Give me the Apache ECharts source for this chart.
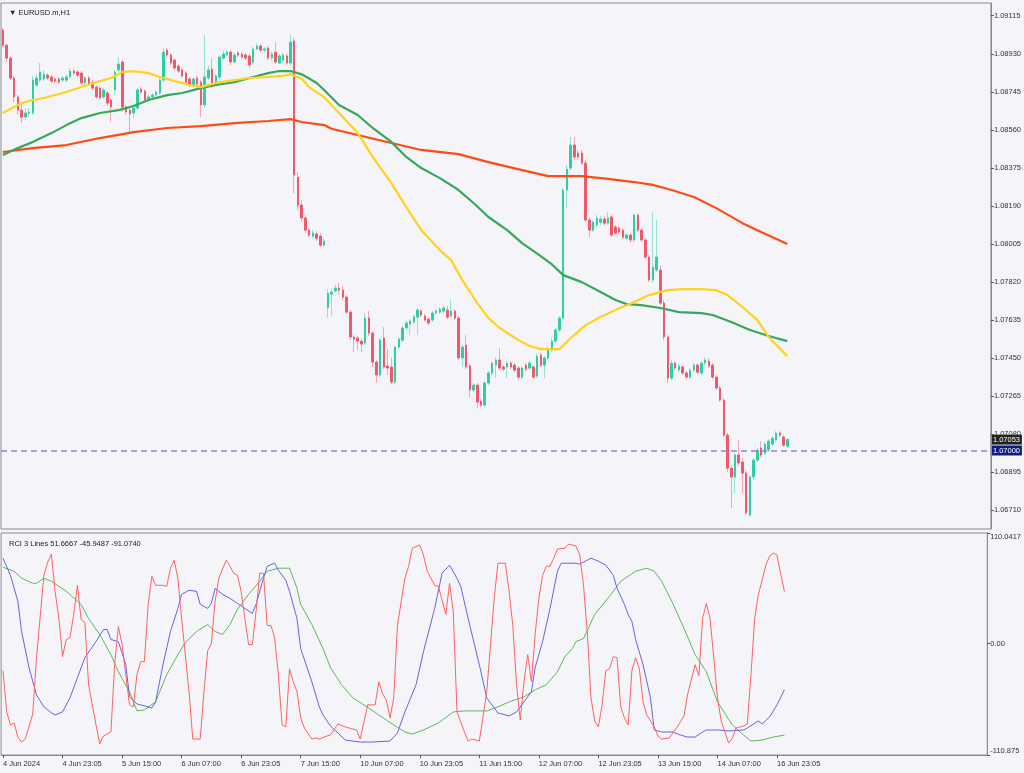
<!DOCTYPE html>
<html><head><meta charset="utf-8">
<script src="https://cdn.jsdelivr.net/npm/echarts@6/dist/echarts.min.js"></script>
<style>html,body{margin:0;padding:0;background:#F5F5F9;}#c{width:1024px;height:773px;}</style>
</head><body><div id="c"></div>
<script>
// ---------- DATA ----------
const symbolTitle = 'EURUSD.m,H1';
const xTickLabels = ['4 Jun 2024','4 Jun 23:05','5 Jun 15:00','6 Jun 07:00','6 Jun 23:05','7 Jun 15:00','10 Jun 07:00','10 Jun 23:05','11 Jun 15:00','12 Jun 07:00','12 Jun 23:05','13 Jun 15:00','14 Jun 07:00','16 Jun 23:05'];
const barsPerTick = 16;
const totalSlots = 265; // bars shown + empty space to the right
const priceTicks = [1.09115,1.08930,1.08745,1.08560,1.08375,1.08190,1.08005,1.07820,1.07635,1.07450,1.07265,1.07080,1.06895,1.06710];
const priceMin = 1.06618, priceMax = 1.09177;
const rciTicks = [-110.875, 0, 110.0417];
const rciTickLabels = ['-110.875','0.00','110.0417'];
const levelPrice = 1.07000;

// [open, close, low, high]
const ohlc = [
[1.09045,1.08972,1.08963,1.09055],[1.08972,1.08909,1.08890,1.08977],[1.08909,1.08812,1.08802,1.08919],[1.08812,1.08720,1.08695,1.08822],
[1.08720,1.08656,1.08632,1.08729],[1.08656,1.08622,1.08593,1.08685],[1.08622,1.08642,1.08608,1.08666],[1.08642,1.08647,1.08627,1.08666],
[1.08642,1.08802,1.08632,1.08822],[1.08778,1.08812,1.08768,1.08831],[1.08802,1.08841,1.08792,1.08885],[1.08807,1.08831,1.08797,1.08851],
[1.08826,1.08812,1.08802,1.08836],[1.08817,1.08797,1.08788,1.08826],[1.08807,1.08797,1.08788,1.08817],[1.08807,1.08792,1.08783,1.08817],
[1.08802,1.08812,1.08792,1.08822],[1.08802,1.08817,1.08792,1.08831],[1.08817,1.08846,1.08812,1.08861],[1.08846,1.08836,1.08826,1.08856],
[1.08841,1.08826,1.08817,1.08851],[1.08836,1.08788,1.08778,1.08846],[1.08788,1.08812,1.08778,1.08822],[1.08812,1.08783,1.08773,1.08822],
[1.08792,1.08763,1.08754,1.08802],[1.08768,1.08720,1.08710,1.08778],[1.08763,1.08715,1.08705,1.08773],[1.08720,1.08754,1.08710,1.08763],
[1.08739,1.08690,1.08676,1.08749],[1.08705,1.08671,1.08598,1.08715],[1.08754,1.08841,1.08729,1.08851],[1.08851,1.08880,1.08841,1.08914],
[1.08890,1.08671,1.08647,1.08899],[1.08671,1.08647,1.08632,1.08681],[1.08656,1.08637,1.08549,1.08666],[1.08642,1.08666,1.08617,1.08681],
[1.08666,1.08754,1.08656,1.08763],[1.08758,1.08744,1.08734,1.08768],[1.08749,1.08705,1.08695,1.08758],[1.08710,1.08720,1.08700,1.08729],
[1.08720,1.08729,1.08710,1.08739],[1.08729,1.08744,1.08720,1.08754],[1.08739,1.08802,1.08729,1.08812],[1.08802,1.08938,1.08792,1.08958],
[1.08948,1.08924,1.08909,1.08958],[1.08924,1.08885,1.08875,1.08934],[1.08899,1.08861,1.08851,1.08909],[1.08870,1.08846,1.08836,1.08880],
[1.08851,1.08822,1.08812,1.08861],[1.08836,1.08792,1.08783,1.08846],[1.08807,1.08778,1.08768,1.08817],[1.08778,1.08807,1.08768,1.08817],
[1.08812,1.08783,1.08773,1.08822],[1.08792,1.08681,1.08622,1.08802],[1.08681,1.08817,1.08666,1.09021],[1.08812,1.08851,1.08802,1.08870],
[1.08856,1.08778,1.08763,1.08909],[1.08792,1.08822,1.08783,1.08831],[1.08817,1.08914,1.08807,1.08924],[1.08909,1.08929,1.08899,1.08948],
[1.08924,1.08938,1.08919,1.08948],[1.08938,1.08890,1.08875,1.08948],[1.08890,1.08924,1.08885,1.08934],[1.08934,1.08924,1.08914,1.08943],
[1.08929,1.08914,1.08904,1.08938],[1.08924,1.08909,1.08899,1.08934],[1.08919,1.08875,1.08861,1.08929],[1.08890,1.08953,1.08880,1.08963],
[1.08953,1.08968,1.08948,1.08982],[1.08968,1.08948,1.08938,1.08977],[1.08948,1.08953,1.08938,1.08963],[1.08958,1.08909,1.08899,1.08968],
[1.08909,1.08929,1.08899,1.08938],[1.08938,1.08890,1.08880,1.08987],[1.08885,1.08919,1.08880,1.08929],[1.08899,1.08924,1.08885,1.08934],
[1.08919,1.08885,1.08875,1.08929],[1.08885,1.08987,1.08875,1.09021],[1.08992,1.08340,1.08252,1.09006],[1.08330,1.08194,1.08170,1.08355],
[1.08194,1.08131,1.08111,1.08218],[1.08131,1.08072,1.08058,1.08145],[1.08072,1.08048,1.08038,1.08082],[1.08043,1.08058,1.08033,1.08072],
[1.08053,1.08033,1.08019,1.08067],[1.08043,1.07999,1.07990,1.08058],[1.07999,1.08019,1.07990,1.08029],
[1.07693,1.07766,1.07644,1.07785],[1.07761,1.07771,1.07654,1.07790],[1.07776,1.07790,1.07771,1.07805],[1.07790,1.07780,1.07756,1.07815],
[1.07780,1.07746,1.07732,1.07800],[1.07746,1.07673,1.07664,1.07756],[1.07673,1.07552,1.07537,1.07683],[1.07552,1.07542,1.07479,1.07561],
[1.07547,1.07532,1.07489,1.07557],[1.07532,1.07518,1.07479,1.07542],[1.07523,1.07644,1.07513,1.07669],[1.07644,1.07571,1.07557,1.07678],
[1.07571,1.07430,1.07406,1.07581],[1.07430,1.07367,1.07328,1.07440],[1.07367,1.07537,1.07357,1.07547],[1.07547,1.07406,1.07396,1.07600],
[1.07411,1.07401,1.07367,1.07493],[1.07406,1.07333,1.07323,1.07450],[1.07333,1.07503,1.07323,1.07513],[1.07503,1.07542,1.07493,1.07552],
[1.07537,1.07596,1.07527,1.07605],[1.07596,1.07620,1.07586,1.07630],[1.07615,1.07630,1.07561,1.07639],[1.07625,1.07649,1.07615,1.07659],
[1.07649,1.07683,1.07561,1.07693],[1.07678,1.07659,1.07649,1.07688],[1.07654,1.07635,1.07625,1.07664],[1.07639,1.07620,1.07610,1.07649],
[1.07635,1.07669,1.07625,1.07678],[1.07669,1.07678,1.07659,1.07688],[1.07673,1.07688,1.07664,1.07698],[1.07678,1.07693,1.07669,1.07707],
[1.07683,1.07649,1.07639,1.07703],[1.07654,1.07678,1.07644,1.07732],[1.07678,1.07644,1.07635,1.07688],[1.07644,1.07450,1.07440,1.07654],
[1.07450,1.07503,1.07406,1.07513],[1.07513,1.07406,1.07396,1.07561],[1.07411,1.07294,1.07260,1.07420],[1.07294,1.07318,1.07284,1.07328],
[1.07318,1.07236,1.07206,1.07328],[1.07240,1.07221,1.07211,1.07250],[1.07221,1.07328,1.07211,1.07338],[1.07328,1.07377,1.07318,1.07386],
[1.07377,1.07425,1.07367,1.07435],[1.07415,1.07440,1.07352,1.07454],[1.07440,1.07401,1.07391,1.07498],[1.07406,1.07396,1.07386,1.07415],
[1.07406,1.07425,1.07352,1.07435],[1.07425,1.07406,1.07396,1.07435],[1.07415,1.07391,1.07381,1.07425],[1.07401,1.07357,1.07343,1.07411],
[1.07357,1.07401,1.07347,1.07411],[1.07415,1.07396,1.07386,1.07425],[1.07401,1.07425,1.07391,1.07435],[1.07406,1.07357,1.07347,1.07415],
[1.07362,1.07459,1.07352,1.07469],[1.07464,1.07415,1.07406,1.07474],[1.07415,1.07450,1.07352,1.07459],[1.07450,1.07489,1.07440,1.07508],
[1.07489,1.07532,1.07479,1.07547],[1.07532,1.07586,1.07523,1.07596],[1.07586,1.07644,1.07576,1.07654],[1.07644,1.08267,1.07635,1.08277],
[1.08267,1.08369,1.08179,1.08389],[1.08374,1.08486,1.08364,1.08525],[1.08486,1.08428,1.08413,1.08525],[1.08447,1.08428,1.08413,1.08462],
[1.08447,1.08398,1.08389,1.08462],[1.08398,1.08121,1.08111,1.08413],[1.08121,1.08072,1.08038,1.08136],[1.08072,1.08111,1.08063,1.08121],
[1.08097,1.08131,1.08087,1.08145],[1.08111,1.08126,1.08097,1.08140],[1.08126,1.08106,1.08092,1.08140],[1.08106,1.08131,1.08097,1.08160],
[1.08136,1.08048,1.08038,1.08145],[1.08087,1.08058,1.08048,1.08097],[1.08082,1.08063,1.08053,1.08092],[1.08072,1.08038,1.08029,1.08082],
[1.08033,1.08048,1.08024,1.08058],[1.08048,1.08024,1.08009,1.08058],[1.08024,1.08145,1.08014,1.08155],[1.08145,1.08072,1.08063,1.08155],
[1.08072,1.08024,1.08014,1.08082],[1.08024,1.07941,1.07931,1.08033],[1.07941,1.07829,1.07820,1.07951],[1.07829,1.07892,1.07815,1.08160],
[1.07878,1.07941,1.07868,1.08121],[1.07878,1.07717,1.07707,1.07902],[1.07717,1.07552,1.07537,1.07732],[1.07552,1.07352,1.07328,1.07561],
[1.07352,1.07425,1.07343,1.07440],[1.07425,1.07401,1.07391,1.07435],[1.07391,1.07411,1.07381,1.07420],[1.07406,1.07377,1.07367,1.07415],
[1.07377,1.07357,1.07347,1.07386],[1.07357,1.07391,1.07347,1.07401],[1.07391,1.07415,1.07381,1.07425],[1.07415,1.07381,1.07372,1.07425],
[1.07377,1.07425,1.07367,1.07435],[1.07425,1.07440,1.07415,1.07454],[1.07435,1.07411,1.07401,1.07450],[1.07415,1.07357,1.07347,1.07425],
[1.07357,1.07304,1.07294,1.07367],[1.07304,1.07245,1.07236,1.07313],[1.07245,1.07075,1.07065,1.07255],[1.07075,1.06914,1.06895,1.07085],
[1.06914,1.06871,1.06720,1.06929],[1.06871,1.06978,1.06793,1.06987],[1.06978,1.06939,1.06924,1.07051],[1.06944,1.06890,1.06793,1.06963],
[1.06890,1.06696,1.06686,1.06905],[1.06686,1.06871,1.06676,1.06880],[1.06871,1.06953,1.06861,1.06963],[1.06953,1.07002,1.06944,1.07012],
[1.07012,1.06978,1.06968,1.07046],[1.06987,1.07031,1.06978,1.07041],[1.07002,1.07046,1.06992,1.07055],[1.07031,1.07060,1.07021,1.07070],
[1.07051,1.07085,1.07041,1.07094],[1.07085,1.07075,1.07065,1.07094],[1.07065,1.07026,1.07017,1.07075],[1.07021,1.07053,1.07012,1.07060]
];

// moving averages: [barIndex, price]
const maFast = [[0,1.08642],[5,1.08690],[8,1.08705],[11,1.08715],[17,1.08744],[21,1.08768],[26,1.08797],[29,1.08812],[32,1.08841],[35,1.08846],[39,1.08836],[42,1.08817],[47,1.08792],[50,1.08778],[53,1.08768],[57,1.08788],[62,1.08802],[66,1.08812],[71,1.08817],[75,1.08822],[77,1.08831],[80,1.08808],[82,1.08768],[86,1.08719],[90,1.08642],[95,1.08544],[99,1.08428],[104,1.08301],[108,1.08184],[112,1.08072],[117,1.07975],[120,1.07926],[123,1.07829],[127,1.07717],[130,1.07644],[133,1.07596],[138,1.07537],[141,1.07508],[144,1.07493],[149,1.07493],[152,1.07547],[156,1.07610],[160,1.07649],[164,1.07683],[169,1.07722],[173,1.07756],[178,1.07780],[182,1.07785],[187,1.07785],[191,1.07780],[194,1.07756],[198,1.07698],[202,1.07634],[205,1.07552],[210,1.07459]];
const maMid = [[0,1.08437],[4,1.08471],[8,1.08501],[13,1.08544],[17,1.08583],[21,1.08617],[26,1.08642],[31,1.08656],[35,1.08676],[39,1.08705],[44,1.08729],[48,1.08739],[53,1.08763],[57,1.08778],[62,1.08792],[66,1.08812],[71,1.08836],[74,1.08846],[77,1.08846],[80,1.08830],[82,1.08810],[84,1.08788],[86,1.08754],[90,1.08681],[95,1.08632],[99,1.08569],[104,1.08501],[108,1.08428],[112,1.08374],[117,1.08325],[122,1.08267],[126,1.08204],[130,1.08136],[135,1.08072],[139,1.08009],[144,1.07946],[147,1.07905],[150,1.07853],[155,1.07819],[160,1.07771],[164,1.07732],[167,1.07712],[171,1.07707],[176,1.07693],[181,1.07673],[187,1.07668],[190,1.07659],[195,1.07625],[200,1.07586],[205,1.07557],[210,1.07532]];
const maSlow = [[0,1.08452],[8,1.08471],[17,1.08486],[26,1.08520],[35,1.08549],[44,1.08569],[53,1.08578],[62,1.08593],[71,1.08603],[77,1.08612],[80,1.08598],[86,1.08583],[88,1.08565],[95,1.08535],[104,1.08496],[112,1.08462],[122,1.08442],[130,1.08403],[139,1.08364],[146,1.08335],[155,1.08335],[162,1.08321],[169,1.08306],[174,1.08292],[179,1.08267],[185,1.08233],[191,1.08179],[198,1.08106],[203,1.08063],[210,1.08004]];

// RCI 3 lines: [barIndex, value]
const rciShort = [[0,-27],[1,-68],[2,-81],[3,-79],[4,-93],[5,-98],[6,-95],[8,-70],[9,-14],[11,68],[12,81],[13,89],[14,52],[15,26],[16,-13],[17,4],[18,6],[19,29],[20,58],[21,24],[22,21],[23,-41],[25,-81],[26,-100],[27,-92],[29,-88],[30,-21],[31,17],[32,-1],[33,-31],[34,-61],[35,-63],[36,-31],[37,-18],[38,-18],[39,38],[40,67],[41,58],[43,58],[44,57],[45,75],[46,83],[47,65],[48,25],[50,-48],[51,-95],[53,-95],[54,-48],[55,-7],[56,0],[57,42],[58,65],[60,83],[61,77],[62,70],[63,68],[64,52],[65,25],[66,-1],[67,-1],[68,32],[69,70],[70,70],[71,18],[72,18],[73,6],[74,-31],[75,-81],[76,-83],[77,-25],[78,-38],[79,-48],[80,-74],[81,-84],[83,-95],[84,-94],[85,-95],[87,-92],[88,-91],[90,-80],[92,-83],[94,-85],[95,-86],[96,-95],[98,-61],[100,-61],[101,-38],[102,-50],[103,-56],[104,-74],[105,-54],[106,18],[108,65],[109,77],[110,95],[112,98],[113,88],[114,72],[116,58],[117,57],[119,29],[120,60],[121,32],[122,-68],[124,-88],[125,-97],[126,-95],[128,-97],[130,-48],[132,45],[133,80],[135,80],[136,52],[137,18],[138,-41],[139,-76],[140,-38],[141,-11],[142,-38],[143,9],[144,45],[145,68],[146,77],[147,77],[148,85],[149,94],[151,95],[152,99],[154,97],[155,88],[156,58],[157,12],[158,-54],[159,-77],[160,-83],[161,-61],[162,-27],[163,-25],[164,-13],[165,-14],[166,-63],[167,-74],[168,-81],[169,-27],[170,-14],[171,-25],[172,-58],[173,-71],[175,-83],[176,-92],[177,-95],[179,-94],[180,-89],[181,-84],[183,-72],[184,-50],[186,-21],[187,-32],[188,25],[189,40],[190,25],[191,-14],[192,-54],[193,-77],[195,-99],[196,-94],[197,-84],[199,-82],[200,-80],[201,-31],[202,25],[203,49],[204,63],[205,78],[206,87],[207,90],[208,88],[209,69],[210,51.6667]];
const rciMid = [[0,85],[2,68],[4,42],[5,12],[7,-24],[9,-51],[11,-63],[13,-69],[14,-71],[16,-68],[18,-54],[20,-34],[22,-14],[25,2],[27,14],[28,14],[29,4],[31,2],[33,-21],[34,-53],[36,-60],[38,-62],[40,-64],[41,-58],[43,-21],[45,12],[47,35],[48,49],[50,53],[52,52],[53,39],[55,35],[56,40],[57,55],[59,49],[61,45],[63,40],[65,35],[67,30],[68,39],[70,65],[71,77],[73,80],[74,73],[76,63],[77,52],[79,25],[80,-5],[83,-38],[85,-63],[86,-71],[88,-82],[90,-89],[92,-96],[96,-98],[99,-98],[104,-97],[106,-89],[108,-68],[111,-41],[113,-8],[116,35],[118,70],[120,78],[122,65],[123,57],[125,25],[128,-21],[130,-54],[133,-69],[136,-72],[138,-68],[140,-58],[142,-48],[143,-24],[145,2],[147,35],[149,72],[150,80],[154,80],[155,79],[158,85],[160,82],[162,78],[164,68],[165,55],[167,39],[168,29],[169,22],[170,4],[172,-21],[174,-54],[175,-86],[177,-88],[180,-88],[182,-91],[184,-93],[186,-93],[188,-88],[189,-86],[192,-86],[195,-87],[199,-86],[200,-84],[203,-77],[204,-80],[206,-73],[208,-61],[210,-45.9487]];
const rciLong = [[0,76],[3,72],[5,65],[8,60],[9,60],[11,65],[13,62],[17,52],[21,39],[23,25],[26,9],[29,-11],[31,-28],[34,-48],[36,-67],[38,-66],[41,-58],[44,-31],[47,-11],[49,1],[52,12],[55,19],[57,12],[59,9],[61,19],[63,34],[66,49],[69,62],[71,72],[74,75],[77,75],[79,55],[80,39],[83,19],[86,-5],[88,-24],[91,-41],[94,-54],[97,-61],[101,-71],[105,-81],[108,-88],[110,-90],[113,-86],[117,-79],[121,-68],[124,-67],[130,-67],[133,-63],[136,-58],[140,-53],[143,-46],[146,-41],[149,-28],[151,-13],[153,-5],[154,2],[156,5],[159,29],[163,47],[166,62],[170,72],[173,75],[175,72],[177,62],[180,40],[183,15],[186,-11],[189,-28],[192,-58],[196,-81],[199,-91],[201,-97],[204,-96],[207,-93],[210,-91.074]];

// ---------- CHART ----------
const FONT = '"Liberation Sans", Arial, sans-serif';
const BG = '#F5F5F9';
const categories = Array.from({length: totalSlots}, (_, i) => String(i));
const lastClose = ohlc[ohlc.length - 1][1];
const bodies = ohlc.map(([o, c]) => [o, c, Math.min(o, c), Math.max(o, c)]);
const tickFn = (idx) => idx % barsPerTick === 0 && idx / barsPerTick < xTickLabels.length;
const lastOf = a => a[a.length - 1][1];
const rciTitle = 'RCI 3 Lines ' + lastOf(rciShort).toFixed(4) + ' ' + lastOf(rciMid).toFixed(4) + ' ' + lastOf(rciLong).toFixed(4);

const axisLbl = {fontSize: 7.5, color: '#333', fontFamily: FONT};
const chart = echarts.init(document.getElementById('c'), null, {renderer: 'canvas'});
chart.setOption({
  animation: false,
  backgroundColor: BG,
  title: [
    {text: '\u25BC ' + symbolTitle, left: 4, top: 4, textStyle: {fontSize: 7.5, fontWeight: 'normal', color: '#222', fontFamily: FONT}},
    {text: rciTitle, left: 4, top: 535, textStyle: {fontSize: 7.5, fontWeight: 'normal', color: '#222', fontFamily: FONT}}
  ],
  grid: [
    {left: 1, top: 3, width: 990, height: 526, show: true, borderColor: '#8c8c8c', borderWidth: 1, backgroundColor: BG},
    {left: 1, top: 533, width: 990, height: 222, show: true, borderColor: '#8c8c8c', borderWidth: 1, backgroundColor: BG}
  ],
  xAxis: [
    {gridIndex: 0, type: 'category', data: categories, boundaryGap: true,
     axisLine: {show: false, onZero: false}, axisTick: {show: false}, axisLabel: {show: false}, splitLine: {show: false}},
    {gridIndex: 1, type: 'category', data: categories, boundaryGap: true, position: 'bottom',
     axisLine: {show: true, onZero: false, lineStyle: {color: '#8c8c8c'}},
     axisTick: {show: true, alignWithLabel: true, interval: tickFn, length: 3, lineStyle: {color: '#555'}},
     axisLabel: Object.assign({show: true, interval: tickFn, align: 'left', margin: 5,
       formatter: (v, idx) => xTickLabels[idx / barsPerTick]}, axisLbl),
     splitLine: {show: false}}
  ],
  yAxis: [
    {gridIndex: 0, type: 'value', position: 'right', min: priceMin, max: priceMax,
     axisLine: {show: true, lineStyle: {color: '#8c8c8c'}},
     axisTick: {show: true, customValues: priceTicks, length: 3, lineStyle: {color: '#555'}},
     axisLabel: Object.assign({customValues: priceTicks, formatter: v => v.toFixed(5), margin: 3}, axisLbl),
     splitLine: {show: false}},
    {gridIndex: 1, type: 'value', position: 'right', min: rciTicks[0], max: rciTicks[2],
     axisLine: {show: true, lineStyle: {color: '#8c8c8c'}},
     axisTick: {show: true, customValues: rciTicks, length: 3, lineStyle: {color: '#555'}},
     axisLabel: Object.assign({customValues: rciTicks, margin: 3,
       verticalAlignMaxLabel: 'top', verticalAlignMinLabel: 'bottom',
       formatter: v => { const k = rciTicks.findIndex(t => Math.abs(t - v) < 1e-6); return k >= 0 ? rciTickLabels[k] : ''; }}, axisLbl),
     splitLine: {show: false}}
  ],
  series: [
    {name: 'wicks', type: 'candlestick', xAxisIndex: 0, yAxisIndex: 0, data: ohlc, barWidth: 1,
     itemStyle: {color: '#93E4CE', color0: '#F7A6B0', borderColor: '#93E4CE', borderColor0: '#F7A6B0', borderWidth: 1}},
    {name: 'EURUSD', type: 'candlestick', xAxisIndex: 0, yAxisIndex: 0, data: bodies, barWidth: 2,
     itemStyle: {color: '#2FCFA5', color0: '#F0586B', borderColor: '#2FCFA5', borderColor0: '#F0586B', borderWidth: 1},
     markLine: {silent: true, symbol: ['none', 'none'], animation: false,
       data: [{yAxis: levelPrice, lineStyle: {color: '#8787D9', type: [6, 4], width: 1.5}, label: {show: false}}]}},
    {name: 'MA slow', type: 'line', xAxisIndex: 0, yAxisIndex: 0, data: maSlow, showSymbol: false, symbol: 'none',
     lineStyle: {color: '#FF4A14', width: 2.2}, z: 3},
    {name: 'MA mid', type: 'line', xAxisIndex: 0, yAxisIndex: 0, data: maMid, showSymbol: false, symbol: 'none',
     lineStyle: {color: '#35A85A', width: 2.2}, z: 3},
    {name: 'MA fast', type: 'line', xAxisIndex: 0, yAxisIndex: 0, data: maFast, showSymbol: false, symbol: 'none',
     lineStyle: {color: '#FFD21F', width: 2.2}, z: 3},
    {name: 'RCI long', type: 'line', xAxisIndex: 1, yAxisIndex: 1, data: rciLong, showSymbol: false, symbol: 'none',
     lineStyle: {color: '#5DB85D', width: 1}},
    {name: 'RCI mid', type: 'line', xAxisIndex: 1, yAxisIndex: 1, data: rciMid, showSymbol: false, symbol: 'none',
     lineStyle: {color: '#6464E6', width: 1}},
    {name: 'RCI short', type: 'line', xAxisIndex: 1, yAxisIndex: 1, data: rciShort, showSymbol: false, symbol: 'none',
     lineStyle: {color: '#FF6262', width: 1}}
  ]
});

// price boxes on the axis, placed through the axis scale
const axisX = chart.convertToPixel({xAxisIndex: 0}, totalSlots - 1) + 3736 / 1000 / 2;
const priceBox = (price, bg) => {
  const y = chart.convertToPixel({yAxisIndex: 0}, price);
  return {type: 'group', z: 100, children: [
    {type: 'rect', shape: {x: axisX, y: y - 5, width: 31, height: 10}, style: {fill: bg}},
    {type: 'text', x: axisX + 2, y: y, style: {text: price.toFixed(5), fill: '#fff', font: '7.5px ' + FONT, verticalAlign: 'middle', align: 'left'}}
  ]};
};
chart.setOption({graphic: [priceBox(lastClose, '#222222'), priceBox(levelPrice, '#0E1A86')]});
</script></body></html>
